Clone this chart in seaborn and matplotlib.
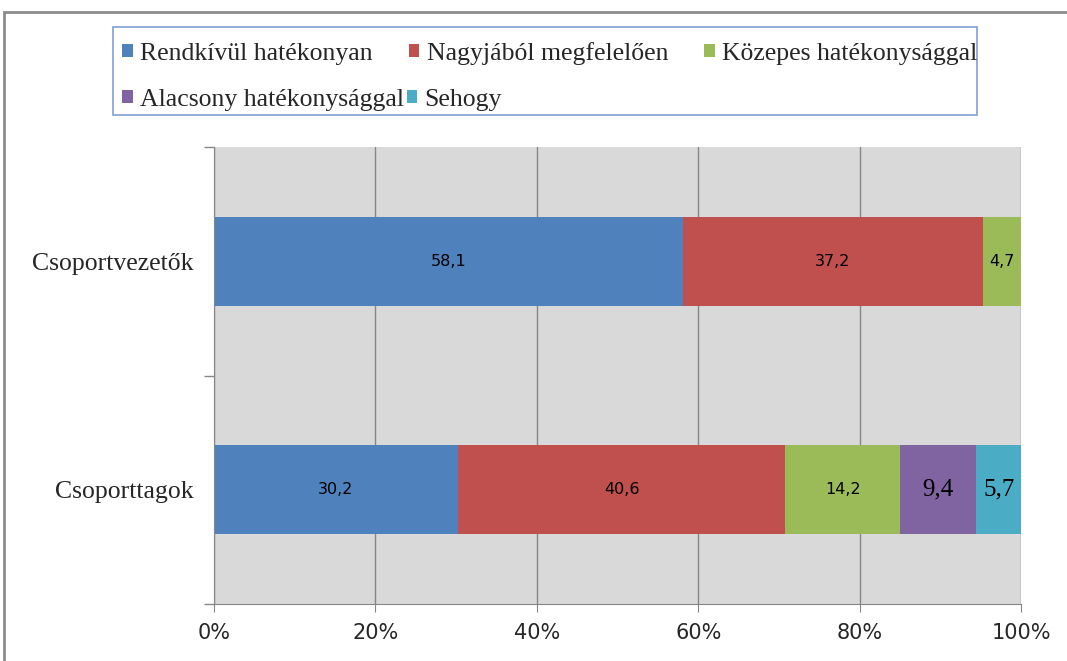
import pandas as pd
import matplotlib.pyplot as plt
import seaborn as sns
from matplotlib.patches import Rectangle, Patch

# data
groups = ["Csoportvezetők", "Csoporttagok"]
series = ["Rendkívül hatékonyan", "Nagyjából megfelelően", "Közepes hatékonysággal",
          "Alacsony hatékonysággal", "Sehogy"]
vezetok = [58.1, 37.2, 4.7, 0.0, 0.0]
tagok = [30.2, 40.6, 14.2, 9.4, 5.7]
x_ticks = [0, 20, 40, 60, 80, 100]

colors = ["#4F81BD", "#C0504D", "#9BBB59", "#8064A2", "#4BACC6"]
# the first three series use small sans labels, the last two larger serif ones
label_styles = [dict(fontsize=11.5, family="DejaVu Sans")] * 3 + \
               [dict(fontsize=18, family=["Liberation Serif", "DejaVu Serif"])] * 2

sns.set_style("white")
plt.rcParams["font.family"] = ["Liberation Serif", "DejaVu Serif"]

df = pd.DataFrame({"group": groups})
for name, a, b in zip(series, vezetok, tagok):
    df[name] = [a, b]
cum = df[series].cumsum(axis=1)

fig = plt.figure(figsize=(10.67, 6.61), dpi=100)
ax = fig.add_axes([214 / 1067, 1 - 604 / 661, 807 / 1067, 457 / 661])
ax.set_facecolor("#D9D9D9")

# stacked bars: draw cumulative totals from the last segment to the first
for name, col in reversed(list(zip(series, colors))):
    sns.barplot(x=cum[name], y=df["group"], orient="h", color=col,
                width=0.39, saturation=1, ax=ax, zorder=3, edgecolor="none")

for i in range(len(groups)):
    for j, name in enumerate(series):
        v = df.loc[i, name]
        if v <= 0:
            continue
        ax.text(cum.loc[i, name] - v / 2, i, f"{v:.1f}".replace(".", ","),
                ha="center", va="center", color="black", zorder=4, **label_styles[j])

ax.set_xlim(0, 100)
ax.set_ylim(1.5, -0.5)
ax.set_xticks(x_ticks)
ax.set_xticklabels([f"{t}%" for t in x_ticks], fontsize=15, family="DejaVu Sans")
ax.tick_params(axis="x", bottom=True, direction="out", length=6, color="#868686", pad=8)
ax.set_yticks([-0.5, 0.5, 1.5], minor=True)
ax.tick_params(axis="y", which="minor", left=True, direction="out", length=7,
               width=1, color="#868686")
ax.tick_params(axis="y", which="major", length=0, labelsize=18.5, pad=15)
ax.grid(axis="x", color="#868686", linewidth=1, zorder=1)
ax.set_axisbelow(True)
ax.set_xlabel("")
ax.set_ylabel("")
for s in ["top", "right"]:
    ax.spines[s].set_visible(False)
for s in ["left", "bottom"]:
    ax.spines[s].set_color("#868686")
    ax.spines[s].set_zorder(5)

# legend, laid out in two rows like the original
handles = [Patch(facecolor=c, edgecolor="none") for c in colors]
kw = dict(frameon=False, fontsize=18.5, handlelength=0.42, handleheight=0.42,
          handletextpad=0.28, borderaxespad=0, borderpad=0, loc="upper left")
fig.legend(handles[:3], series[:3], ncol=3, columnspacing=1.4,
           bbox_to_anchor=(122 / 1067, 1 - 42 / 661), **kw)
fig.legend(handles[3:], series[3:], ncol=2, columnspacing=0.1,
           bbox_to_anchor=(122 / 1067, 1 - 89 / 661), **kw)
fig.add_artist(Rectangle((113 / 1067, 1 - 115 / 661), 864 / 1067, 88 / 661,
                         transform=fig.transFigure, fill=False, edgecolor="#7F9FD4", linewidth=1.2))

# outer chart frame (cut at the right and bottom edges)
fig.add_artist(Rectangle((4 / 1067, -0.05), 1.1, 1 - 12 / 661 + 0.05,
                         transform=fig.transFigure, fill=False, edgecolor="#8C8C8C", linewidth=2))

fig.savefig("out.png", dpi=100)
